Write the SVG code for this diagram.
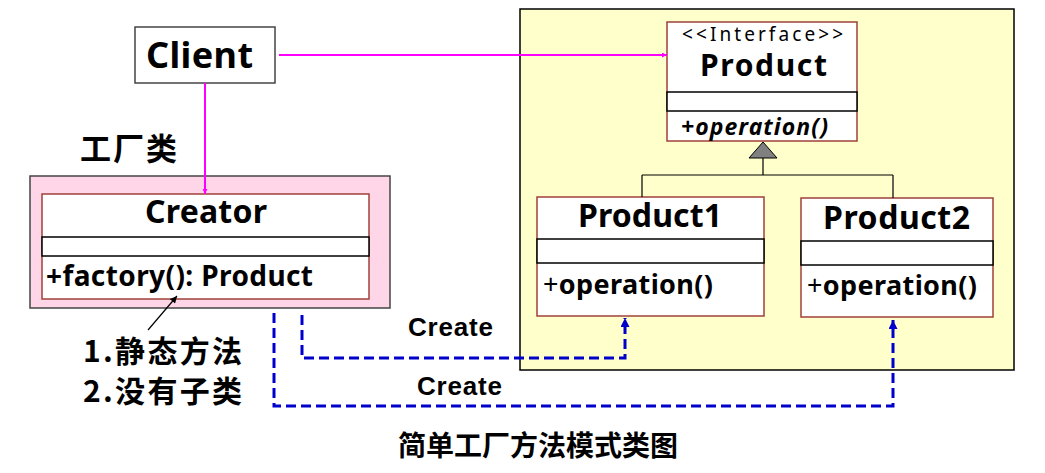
<svg xmlns="http://www.w3.org/2000/svg" width="1045" height="473" viewBox="0 0 1045 473">
<defs>
<style>
.ui{font-family:"Noto Sans","Open Sans","DejaVu Sans",sans-serif;font-weight:bold;fill:#000}
.uin{font-family:"Noto Sans","Open Sans","DejaVu Sans",sans-serif;font-weight:normal;fill:#000}
.cjk{font-family:"Noto Sans CJK SC","Noto Sans",sans-serif;font-weight:bold;fill:#000}
.ar{font-family:"Liberation Sans",Arial,sans-serif;font-weight:bold;fill:#000}
.cls{fill:#fff;stroke:#A0403A;stroke-width:1.5}
.sep{stroke:#000;stroke-width:1.5;fill:#fff}
.mag{stroke:#FF00FF;stroke-width:2;fill:none}
.dash{stroke:#0000CC;stroke-width:3;fill:none;stroke-dasharray:10,5}
.gen{stroke:#000;stroke-width:1.2;fill:none}
</style>
<marker id="mArr" viewBox="0 0 10 10" refX="10" refY="5" markerWidth="5" markerHeight="5" orient="auto" markerUnits="userSpaceOnUse">
<path d="M0,0 L10,5 L0,10 z" fill="#FF00FF"/>
</marker>
<marker id="bArr" viewBox="0 0 10 10" refX="10" refY="5" markerWidth="11" markerHeight="9" orient="auto" markerUnits="userSpaceOnUse">
<path d="M0,0 L10,5 L0,10 z" fill="#0000CC"/>
</marker>
<marker id="kArr" viewBox="0 0 10 10" refX="10" refY="5" markerWidth="8" markerHeight="7" orient="auto" markerUnits="userSpaceOnUse">
<path d="M0,0 L10,5 L0,10 z" fill="#000"/>
</marker>
</defs>
<rect width="1045" height="473" fill="#fff"/>

<g id="product-package">
<rect x="520" y="9" width="494" height="361" fill="#FFFFCC" stroke="#000" stroke-width="1.5"/>
</g>

<g id="factory-package">
<rect x="30" y="176" width="360" height="132" fill="#FFD6E8" stroke="#444" stroke-width="1.5"/>
<text class="cjk" x="80" y="160" font-size="31" textLength="97">工厂类</text>
</g>

<g id="client">
<rect x="135" y="27" width="140" height="56" fill="#fff" stroke="#444" stroke-width="1.5"/>
<text class="ui" x="146" y="68" font-size="36" textLength="107">Client</text>
</g>

<g id="creator">
<rect class="cls" x="42" y="194" width="327" height="105"/>
<rect class="sep" x="42" y="237" width="327" height="19"/>
<text class="ui" x="206" y="223" font-size="32" text-anchor="middle" textLength="122">Creator</text>
<text class="ui" x="46" y="286" font-size="28" textLength="267">+factory(): Product</text>
</g>

<g id="product">
<rect class="cls" x="667" y="22" width="190" height="119"/>
<rect class="sep" x="667" y="92" width="190" height="19"/>
<text class="uin" x="682" y="41" font-size="19" textLength="161">&lt;&lt;Interface&gt;&gt;</text>
<text class="ui" x="700" y="76" font-size="30" textLength="127">Product</text>
<text class="ui" x="681" y="135" font-size="23" font-style="italic" textLength="147">+operation()</text>
</g>

<g id="product1">
<rect class="cls" x="537" y="197" width="227" height="119"/>
<rect class="sep" x="537" y="239" width="227" height="24"/>
<text class="ui" x="578" y="227" font-size="32" textLength="144">Product1</text>
<text class="ui" x="543" y="294" font-size="27" textLength="170"><tspan font-weight="normal">+</tspan>operation()</text>
</g>

<g id="product2">
<rect class="cls" x="801" y="198" width="192" height="119"/>
<rect class="sep" x="801" y="241" width="192" height="24"/>
<text class="ui" x="823" y="229" font-size="32" textLength="147">Product2</text>
<text class="ui" x="807" y="295" font-size="27" textLength="170"><tspan font-weight="normal">+</tspan>operation()</text>
</g>

<g id="notes">
<text class="cjk" x="83" y="362" font-size="30" textLength="159">1.静态方法</text>
<text class="cjk" x="83" y="402" font-size="30" textLength="159">2.没有子类</text>
<text class="cjk" x="398" y="456" font-size="28" textLength="280">简单工厂方法模式类图</text>
</g>

<g id="connectors">
<path class="mag" d="M279,55 L667,55" marker-end="url(#mArr)"/>
<path class="mag" d="M205,83 L205,194" marker-end="url(#mArr)"/>
<path class="gen" d="M763,158 L763,175 M642,175 L893,175 M642,175 L642,197 M893,175 L893,198"/>
<path d="M763,142 L749,158 L777,158 z" fill="#808080" stroke="#000" stroke-width="1"/>
<path class="dash" d="M302,315 L302,358 L625,358 L625,318" marker-end="url(#bArr)"/>
<path class="dash" d="M274,313 L274,406 L893,406 L893,320" marker-end="url(#bArr)"/>
<path d="M148,330 L177,296" stroke="#000" stroke-width="1.2" marker-end="url(#kArr)"/>
<text class="ar" x="408" y="336" font-size="26" textLength="85">Create</text>
<text class="ar" x="417" y="395" font-size="26" textLength="85">Create</text>
</g>
</svg>
